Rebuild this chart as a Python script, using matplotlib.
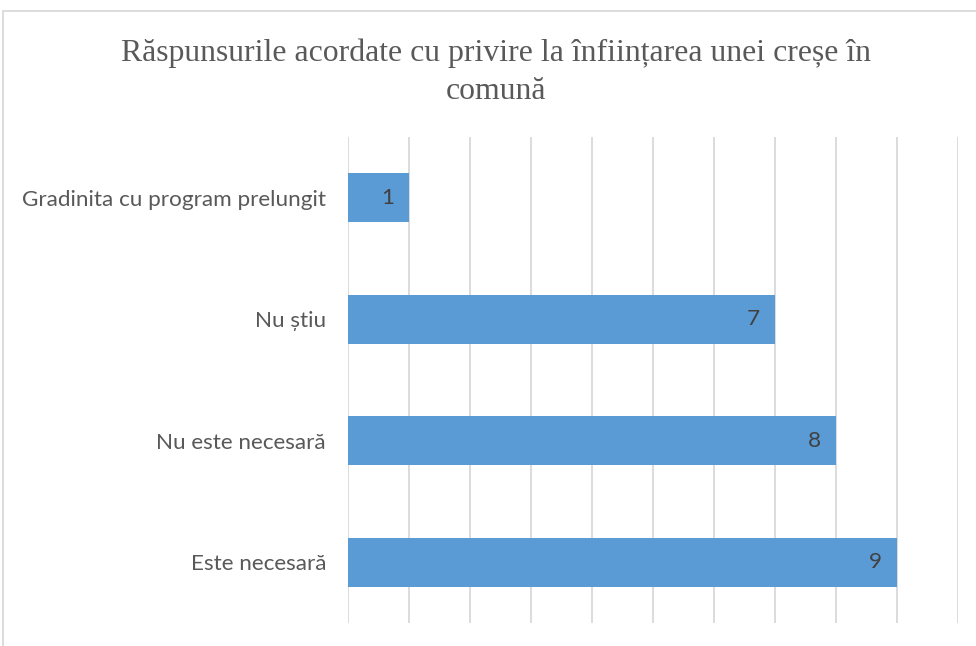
import matplotlib.pyplot as plt
from matplotlib.patches import Rectangle

categories = ["Este necesară", "Nu este necesară", "Nu știu", "Gradinita cu program prelungit"]
values = [9, 8, 7, 1]
title = "Răspunsurile acordate cu privire la înființarea unei creșe în\ncomună"

bar_color = "#5B9BD5"
grid_color = "#D9D9D9"
text_color = "#595959"

fig = plt.figure(figsize=(9.76, 6.46), dpi=100)
ax = fig.add_axes([348 / 976, 23 / 646, 610 / 976, 486 / 646])

# chart border (cropped on right/bottom like the original)
fig.patches.append(Rectangle((3 / 976, -0.05), 1.1, (646 - 11) / 646 + 0.05,
                             transform=fig.transFigure, fill=False,
                             edgecolor=grid_color, linewidth=1.3))

y = range(len(categories))
ax.barh(y, values, height=0.4, color=bar_color, zorder=3)

ax.set_xlim(0, 10)
ax.set_ylim(-0.5, len(categories) - 0.5)
ax.set_xticks(range(0, 11))
ax.tick_params(axis="x", length=0, labelbottom=False)
ax.grid(axis="x", color=grid_color, linewidth=1.3, zorder=0)
ax.set_axisbelow(True)
for s in ax.spines.values():
    s.set_visible(False)

ax.set_yticks(list(y))
ax.set_yticklabels(categories, fontsize=16.2, color=text_color, family="Lato")
ax.tick_params(axis="y", length=0, pad=15.8)

for i, v in enumerate(values):
    ax.annotate(str(v), xy=(v, i), xytext=(-11, 0), textcoords="offset points",
                ha="right", va="center", fontsize=16.2, color="#404040", family="Lato")

fig.text(496 / 976, 1 - 39 / 646, title, ha="center", va="top",
         fontsize=22.9, color=text_color, family="Liberation Serif", linespacing=1.38)

fig.savefig("out.png", dpi=100)
